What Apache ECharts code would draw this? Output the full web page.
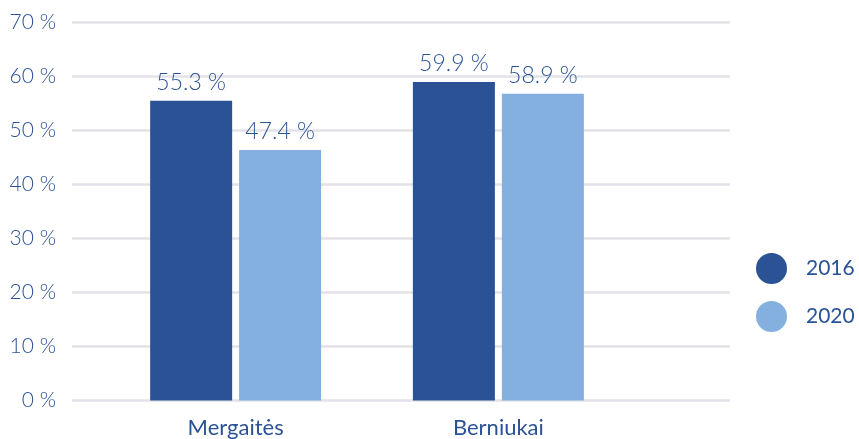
<!DOCTYPE html>
<html><head><meta charset="utf-8">
<script src="https://cdn.jsdelivr.net/npm/echarts@6/dist/echarts.min.js"></script>
<style>html,body{margin:0;padding:0;background:#fff}#c{width:859px;height:439px}</style>
</head><body><div id="c"></div>
<script>
const categories = ['Mergaitės', 'Berniukai'];
const seriesNames = ['2016', '2020'];
const values2016 = [55.5, 59.0];
const values2020 = [46.4, 56.8];
const labels2016 = ['55.3 %', '59.9 %'];
const labels2020 = ['47.4 %', '58.9 %'];
const yTicks = [0, 10, 20, 30, 40, 50, 60, 70];

const FONT = 'Lato';
const TXT = '#2b5296';
const DARK = '#2a5294';
const LIGHT = '#84b0e0';

const chart = echarts.init(document.getElementById('c'), null, {renderer: 'canvas'});
function mk(name, vals, labs, color) {
  return {
    name, type: 'bar', xAxisIndex: 1, yAxisIndex: 1,
    barWidth: 82, barGap: '8.5%',
    itemStyle: {color},
    label: {show: true, position: 'top', distance: 7, color: TXT, fontFamily: FONT, fontWeight: 300, fontSize: 23,
      formatter: p => labs[p.dataIndex]},
    data: vals
  };
}
chart.setOption({
  animation: false,
  textStyle: {fontFamily: FONT},
  legend: {
    orient: 'vertical', left: 756, top: 253, icon: 'circle', padding: 0,
    itemWidth: 31, itemHeight: 31, itemGap: 17,
    textStyle: {color: TXT, fontSize: 21, fontFamily: FONT, padding: [0, 0, 0, 14]},
    data: seriesNames
  },
  grid: [
    {left: 72, right: 129, top: 22.5, bottom: 38.5},
    {left: 104.25, right: 229.25, top: 22.5, bottom: 38.5}
  ],
  xAxis: [
    {gridIndex: 0, type: 'category', data: categories, show: false},
    {gridIndex: 1, type: 'category', data: categories,
      axisLine: {show: false}, axisTick: {show: false},
      axisLabel: {color: TXT, fontSize: 22, fontFamily: FONT, margin: 16}}
  ],
  yAxis: [
    {gridIndex: 0, type: 'value', min: yTicks[0], max: yTicks[yTicks.length - 1], interval: 10,
      axisLine: {show: false}, axisTick: {show: false},
      axisLabel: {color: TXT, fontSize: 21, fontFamily: FONT, fontWeight: 300, margin: 16, formatter: '{value} %'},
      splitLine: {lineStyle: {color: '#e2e2e8', width: 2.5}}},
    {gridIndex: 1, type: 'value', min: 0, max: 70, interval: 10, show: false, splitLine: {show: false}}
  ],
  series: [
    mk(seriesNames[0], values2016, labels2016, DARK),
    mk(seriesNames[1], values2020, labels2020, LIGHT)
  ]
});
</script></body></html>
